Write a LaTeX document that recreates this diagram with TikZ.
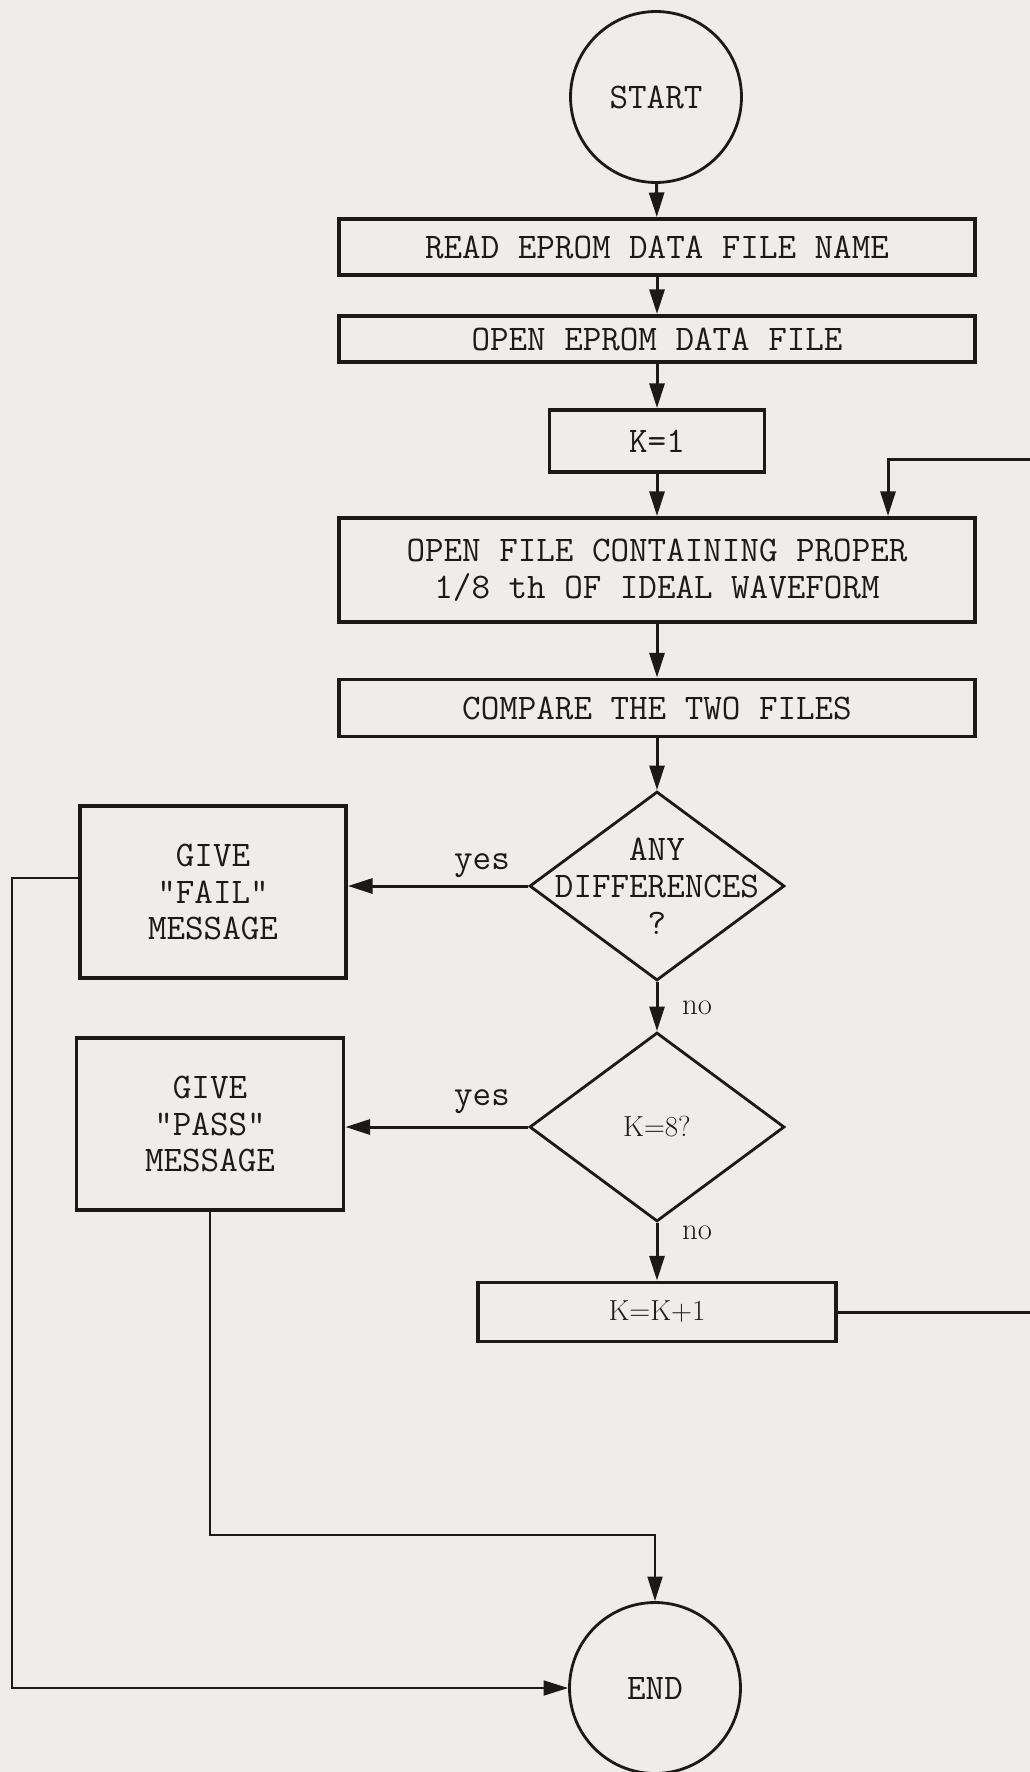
\documentclass[tikz,border=0pt]{standalone}
\usepackage{xcolor}
\usetikzlibrary{arrows.meta, positioning, calc, shapes.geometric}
\definecolor{paper}{RGB}{240,236,233}
\definecolor{ink}{RGB}{28,25,25}

\begin{document}
\begin{tikzpicture}[x=0.02cm, y=-0.02cm,
    every node/.style={font=\fontsize{20.5}{21}\selectfont\ttfamily, inner sep=0pt, align=center, text=ink},
    term/.style={circle, draw=ink, line width=1.6pt, minimum size=3.42cm},
    stepbox/.style={rectangle, draw=ink, line width=2.2pt},
    test/.style={diamond, draw=ink, line width=1.6pt, minimum width=5.1cm, minimum height=3.78cm},
    conn/.style={draw=ink, line width=1.7pt, -{Triangle[length=14pt, width=8.5pt]}},
    back/.style={draw=ink, line width=1.2pt, -{Triangle[length=14pt, width=8.5pt]}},
    roman/.style={font=\fontsize{16.5}{18}\selectfont\rmfamily}]
    \fill[paper] (0,0) rectangle (1030,1772);
    \useasboundingbox (0,0) rectangle (1030,1772);

    % main column
    \node[term] (start) at (656,97) {START};
    \node[stepbox, minimum width=12.72cm, minimum height=1.12cm] (read) at (657,247) {READ EPROM DATA FILE NAME};
    \node[stepbox, minimum width=12.72cm, minimum height=0.92cm] (openeprom) at (657,339) {OPEN EPROM DATA FILE};
    \node[stepbox, minimum width=4.3cm, minimum height=1.24cm] (kone) at (657,441) {K=1};
    \node[stepbox, minimum width=12.72cm, minimum height=2.08cm] (openfile) at (657,570)
        {OPEN FILE CONTAINING PROPER\\ 1/8 th OF IDEAL WAVEFORM};
    \node[stepbox, minimum width=12.72cm, minimum height=1.14cm] (compare) at (657,708) {COMPARE THE TWO FILES};
    \node[test, label={center:ANY\\DIFFERENCES\\?}] (anydiff) at (657,886) {};
    \node[test, label={[roman]center:K=8?}] (keight) at (657,1127) {};
    \node[stepbox, roman, minimum width=7.16cm, minimum height=1.18cm] (knext) at (657,1312) {K=K+1};
    \node[term] (end) at (655,1688) {END};

    % messages
    \node[stepbox, minimum width=5.32cm, minimum height=3.44cm] (fail) at (213,892) {GIVE\\"FAIL"\\MESSAGE};
    \node[stepbox, minimum width=5.34cm, minimum height=3.44cm] (pass) at (210,1124) {GIVE\\"PASS"\\MESSAGE};

    \coordinate (loopin) at (888,459);
    \coordinate (loopedge) at (1040,0);

    \draw[conn] (start) -- (read);
    \draw[conn] (read) -- (openeprom);
    \draw[conn] (openeprom) -- (kone);
    \draw[conn] (kone) -- (openfile);
    \draw[conn] (openfile) -- (compare);
    \draw[conn] (compare) -- (anydiff);
    \draw[conn] (anydiff) -- (keight);
    \draw[conn] (keight) -- (knext);
    \draw[conn] (anydiff.west) -- (anydiff.west -| fail.east);
    \draw[conn] (keight.west) -- (keight.west -| pass.east);
    \draw[back, line width=1.7pt] (knext.east) -- (knext.east -| loopedge) -- (loopin -| loopedge) -- (loopin) -- (loopin |- openfile.north);
    \draw[back] ([yshift=0.28cm]fail.west) -- ++(-66,0) |- (end.west);
    \draw[back] (pass.south) -- ++(0,323) -| (end.north);

    \node at (482,866) {yes};
    \node at (482,1102) {yes};
    \node[font=\fontsize{17.5}{18}\selectfont\rmfamily] at (697,1008) {no};
    \node[font=\fontsize{17.5}{18}\selectfont\rmfamily] at (697,1233) {no};
\end{tikzpicture}
\end{document}
